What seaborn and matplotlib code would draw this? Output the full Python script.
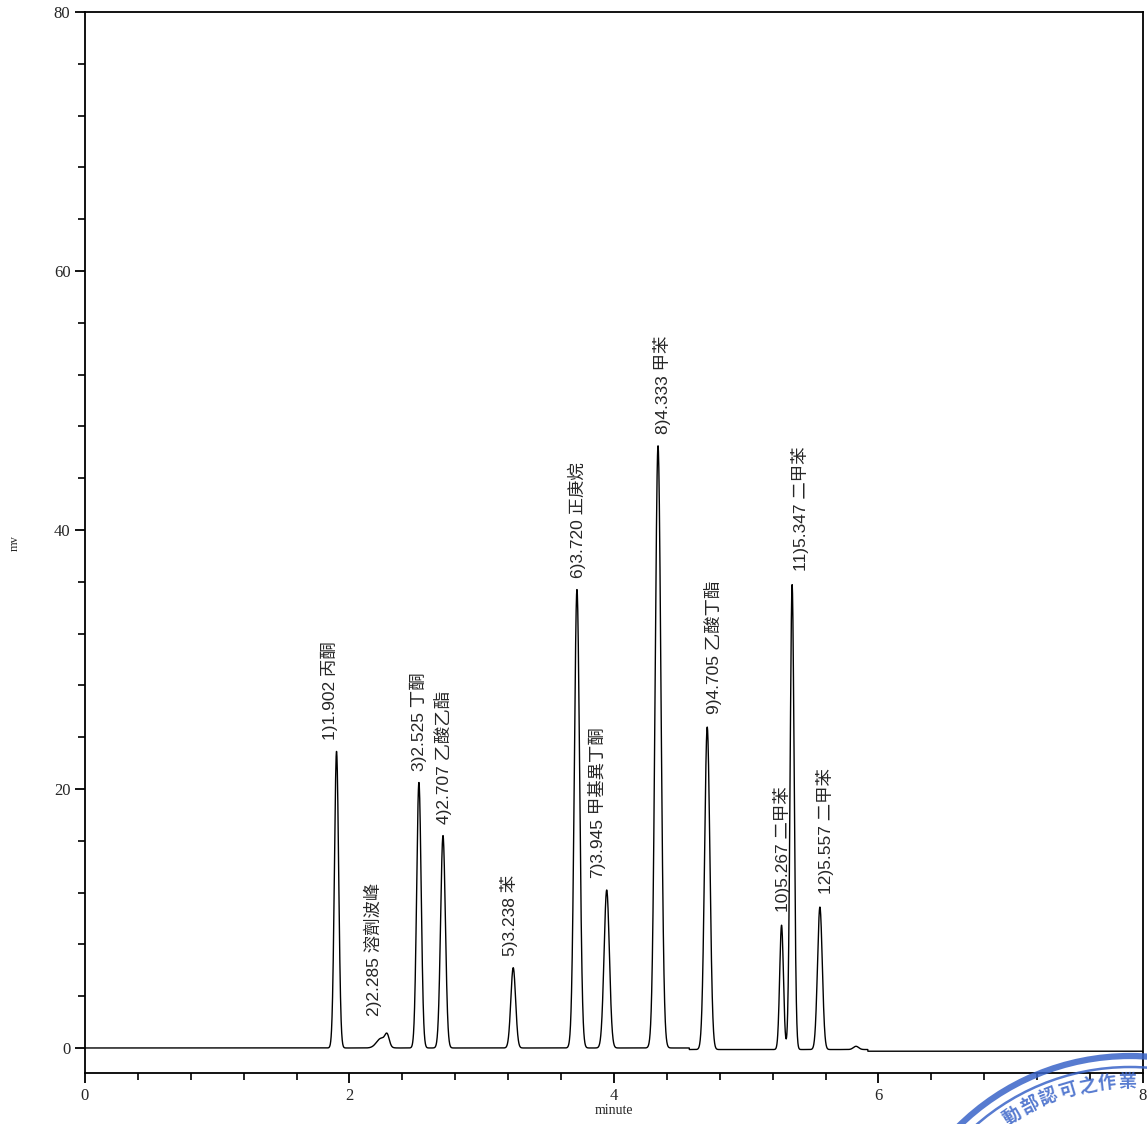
import numpy as np
import pandas as pd
import matplotlib
matplotlib.use('Agg')
import matplotlib.pyplot as plt
from matplotlib.patches import Circle
from matplotlib.ticker import MultipleLocator
import seaborn as sns

# 波峰資料 (滯留時間 min, 高度 mV, 寬度 sigma min)
peak_no = ['1', '2', '3', '4', '5', '6', '7', '8', '9', '10', '11', '12']
peak_rt = [1.902, 2.285, 2.525, 2.707, 3.238, 3.720, 3.945, 4.333, 4.705, 5.267, 5.347, 5.557]
peak_h = [22.9, 0.8, 20.5, 16.4, 6.2, 35.4, 12.2, 46.5, 24.9, 9.6, 35.9, 11.0]
peak_sd = [0.016, 0.016, 0.017, 0.018, 0.018, 0.020, 0.020, 0.022, 0.020, 0.014, 0.015, 0.018]
peak_name = ['丙酮', '溶劑波峰', '丁酮', '乙酸乙酯', '苯', '正庚烷', '甲基異丁酮',
             '甲苯', '乙酸丁酯', '二甲苯', '二甲苯', '二甲苯']

# 小雜訊峰 (溶劑平台, 5.83 min 小峰)
minor_rt = [2.24, 5.83]
minor_h = [0.75, 0.25]
minor_sd = [0.035, 0.02]

# 基線漂移 (起點 min, 偏移 mV)
drift_t = [4.57, 5.92]
drift_v = [-0.12, -0.25]

# 標籤 x 位移 (版面用)
label_dx = [-0.05, -0.11, 0.0, 0.0, -0.03, 0.0, -0.07, 0.03, 0.04, 0.0, 0.06, 0.04]

t = np.linspace(0, 8, 8001)
sig = np.zeros_like(t)
for rt, h, sd in zip(peak_rt + minor_rt, peak_h + minor_h, peak_sd + minor_sd):
    sig += h * np.exp(-0.5 * ((t - rt) / sd) ** 2)
base = np.zeros_like(t)
for dt, dv in zip(drift_t, drift_v):
    base[t >= dt] = dv
sig = sig + base

df = pd.DataFrame({'minute': t, 'mv': sig})

sns.set_theme(style='ticks')
plt.rcParams['font.family'] = ['Liberation Serif', 'Noto Sans CJK TC']

fig = plt.figure(figsize=(11.47, 11.24), dpi=100)
ax = fig.add_axes([0.0741, 0.0454, 0.9224, 0.9439])

sns.lineplot(data=df, x='minute', y='mv', color='black', linewidth=1.0, ax=ax,
             estimator=None, sort=False)

ax.set_xlim(0, 8)
ax.set_ylim(-1.93, 80)
ax.xaxis.set_major_locator(MultipleLocator(2))
ax.xaxis.set_minor_locator(MultipleLocator(0.4))
ax.yaxis.set_major_locator(MultipleLocator(20))
ax.yaxis.set_minor_locator(MultipleLocator(4))
ax.tick_params(which='major', length=7, width=1.3, labelsize=12, direction='out', color='black')
ax.tick_params(which='minor', length=5, width=1.2, direction='out', color='black')
for s in ax.spines.values():
    s.set_linewidth(1.3)
    s.set_color('black')

ax.set_xlabel('minute', fontsize=10, labelpad=0)
ax.set_ylabel('')
fig.text(15 / 1147, 1 - 543 / 1124, 'mv', rotation=90, ha='center', va='center', fontsize=9)

# 波峰標籤
for no, rt, h, name, dx in zip(peak_no, peak_rt, peak_h, peak_name, label_dx):
    top = h + (0.75 if no == '2' else 0.0)
    ax.text(rt + dx, top + 0.9, f'{no}){rt:.3f} {name}', rotation=90,
            ha='center', va='bottom', fontsize=12.5,
            family=['Liberation Sans', 'Noto Sans CJK TC'])

# 掃描圖章 (只露出右上一角)
stamp_c = (11.30, -1.76)
for r, lw in [(2.44, 4.5), (2.33, 1.8)]:
    fig.add_artist(Circle(stamp_c, r, transform=fig.dpi_scale_trans,
                          fill=False, edgecolor='#3a64c8', linewidth=lw, alpha=0.85))
stamp = '動部認可之作業'
for i, ch in enumerate(stamp):
    ang = np.deg2rad(122.5 - i * 5.3)
    x = stamp_c[0] + 2.19 * np.cos(ang)
    y = stamp_c[1] + 2.19 * np.sin(ang)
    fig.text(x / 11.47, y / 11.24, ch, rotation=np.rad2deg(ang) - 90, ha='center', va='center',
             fontsize=13, fontweight='bold', color='#3a64c8', alpha=0.85,
             family=['Noto Sans CJK TC'])

fig.savefig('out.png', dpi=100)
